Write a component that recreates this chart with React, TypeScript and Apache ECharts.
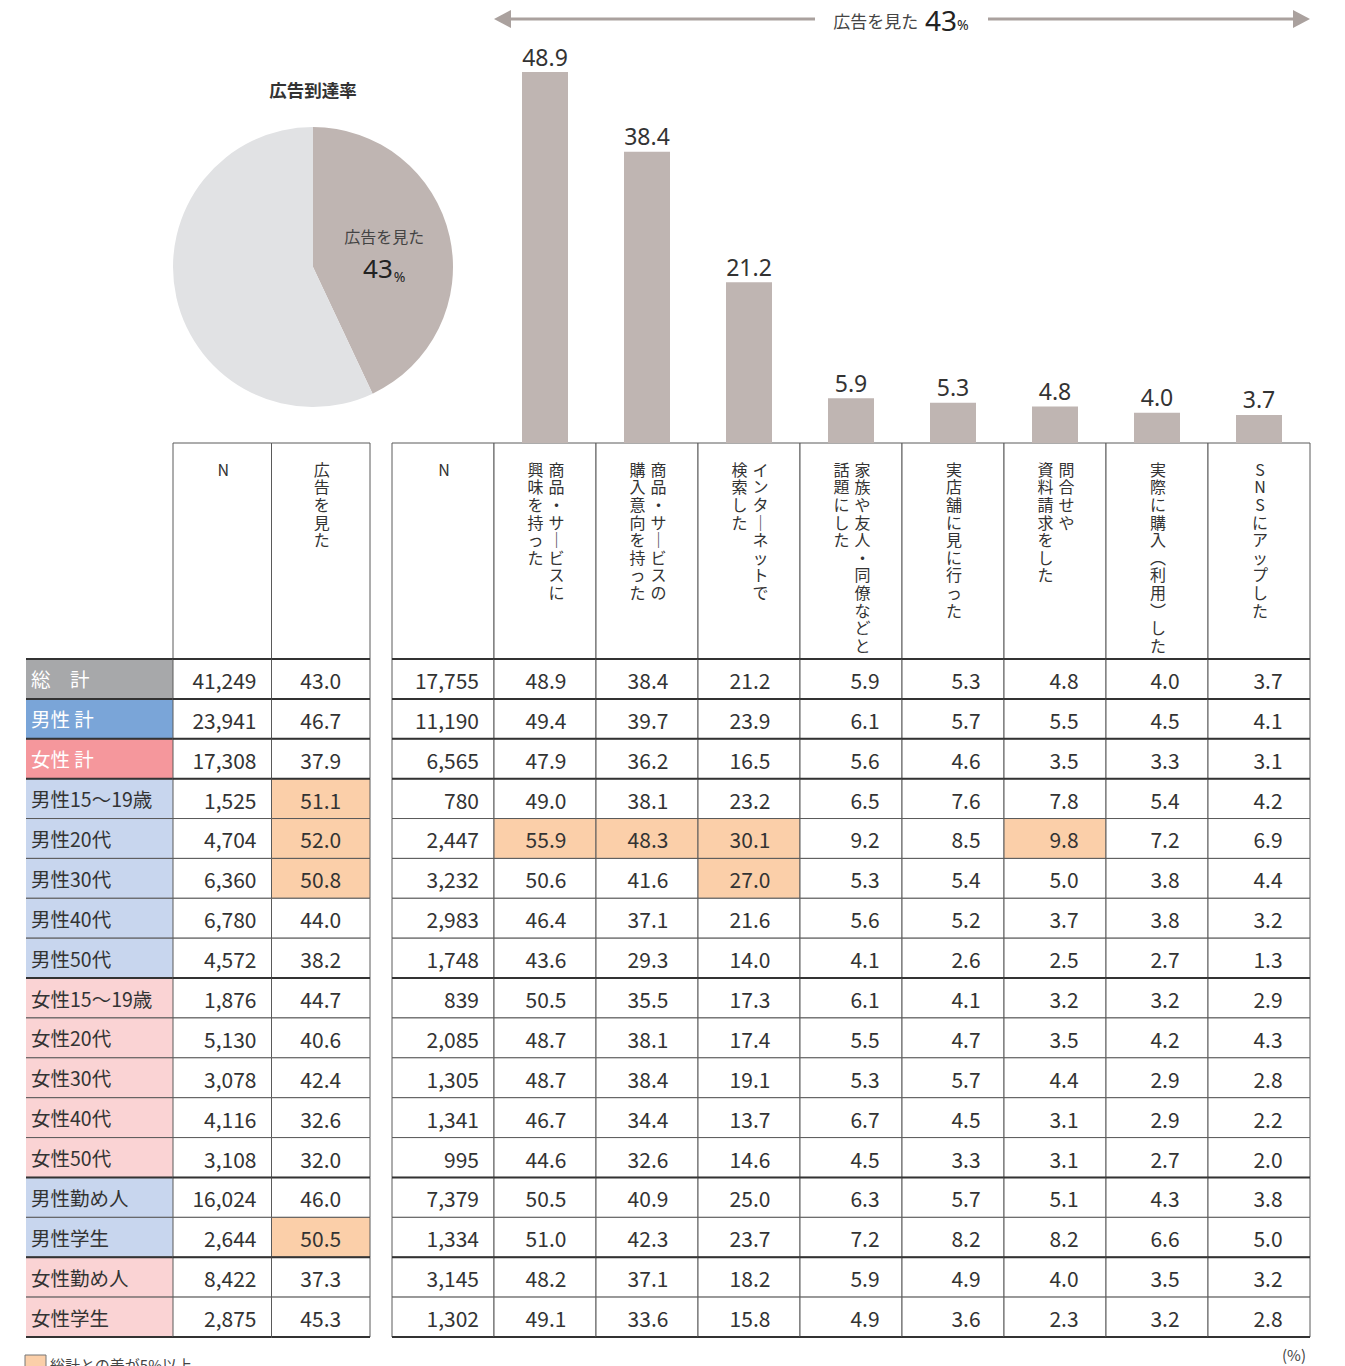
import React, { useEffect, useRef } from "react";
import * as echarts from "echarts";

// ---------- DATA ----------
const rowLabels = [
  "総　計", "男性 計", "女性 計",
  "男性15〜19歳", "男性20代", "男性30代", "男性40代", "男性50代",
  "女性15〜19歳", "女性20代", "女性30代", "女性40代", "女性50代",
  "男性勤め人", "男性学生", "女性勤め人", "女性学生",
];
const rowGroups = [
  "total", "maleTotal", "femaleTotal",
  "male", "male", "male", "male", "male",
  "female", "female", "female", "female", "female",
  "male", "male", "female", "female",
];
const totalN = [41249, 23941, 17308, 1525, 4704, 6360, 6780, 4572, 1876, 5130, 3078, 4116, 3108, 16024, 2644, 8422, 2875];
const sawAdRate = [43.0, 46.7, 37.9, 51.1, 52.0, 50.8, 44.0, 38.2, 44.7, 40.6, 42.4, 32.6, 32.0, 46.0, 50.5, 37.3, 45.3];
const sawAdN = [17755, 11190, 6565, 780, 2447, 3232, 2983, 1748, 839, 2085, 1305, 1341, 995, 7379, 1334, 3145, 1302];

const actionNames = [
  "商品・サービスに興味を持った",
  "商品・サービスの購入意向を持った",
  "インターネットで検索した",
  "家族や友人・同僚などと話題にした",
  "実店舗に見に行った",
  "問合せや資料請求をした",
  "実際に購入（利用）した",
  "SNSにアップした",
];
const actionHeaderLines = [
  ["商品・サービスに", "興味を持った"],
  ["商品・サービスの", "購入意向を持った"],
  ["インターネットで", "検索した"],
  ["家族や友人・同僚などと", "話題にした"],
  ["実店舗に見に行った"],
  ["問合せや", "資料請求をした"],
  ["実際に購入（利用）した"],
  ["SNSにアップした"],
];
const interest = [48.9, 49.4, 47.9, 49.0, 55.9, 50.6, 46.4, 43.6, 50.5, 48.7, 48.7, 46.7, 44.6, 50.5, 51.0, 48.2, 49.1];
const purchaseIntent = [38.4, 39.7, 36.2, 38.1, 48.3, 41.6, 37.1, 29.3, 35.5, 38.1, 38.4, 34.4, 32.6, 40.9, 42.3, 37.1, 33.6];
const searched = [21.2, 23.9, 16.5, 23.2, 30.1, 27.0, 21.6, 14.0, 17.3, 17.4, 19.1, 13.7, 14.6, 25.0, 23.7, 18.2, 15.8];
const talked = [5.9, 6.1, 5.6, 6.5, 9.2, 5.3, 5.6, 4.1, 6.1, 5.5, 5.3, 6.7, 4.5, 6.3, 7.2, 5.9, 4.9];
const visitedStore = [5.3, 5.7, 4.6, 7.6, 8.5, 5.4, 5.2, 2.6, 4.1, 4.7, 5.7, 4.5, 3.3, 5.7, 8.2, 4.9, 3.6];
const inquired = [4.8, 5.5, 3.5, 7.8, 9.8, 5.0, 3.7, 2.5, 3.2, 3.5, 4.4, 3.1, 3.1, 5.1, 8.2, 4.0, 2.3];
const purchased = [4.0, 4.5, 3.3, 5.4, 7.2, 3.8, 3.8, 2.7, 3.2, 4.2, 2.9, 2.9, 2.7, 4.3, 6.6, 3.5, 3.2];
const postedSNS = [3.7, 4.1, 3.1, 4.2, 6.9, 4.4, 3.2, 1.3, 2.9, 4.3, 2.8, 2.2, 2.0, 3.8, 5.0, 3.2, 2.8];
const actionValues = [interest, purchaseIntent, searched, talked, visitedStore, inquired, purchased, postedSNS];

const reachRate = 43;
const pieTitle = "広告到達率";
const sawAdLabel = "広告を見た";
const notSawLabel = "見ていない";
const footnote = "総計との差が5%以上";
const unitLabel = "(%)";
const nLabel = "N";

// ---------- STYLE ----------
const FONT = "'Noto Sans CJK JP', 'Noto Sans', sans-serif";
const NUMFONT = "'Noto Sans', 'Noto Sans CJK JP', sans-serif";
const BAR_COLOR = "#bfb5b2";
const PIE_REST = "#e1e2e4";
const HL = "#fbcfa9";
const LINE = "#5a5a5a";
const ARROW = "#aaa19e";
const groupFill: Record<string, string> = {
  total: "#a7a8aa",
  maleTotal: "#7aa5d8",
  femaleTotal: "#f5979c",
  male: "#c8d6ee",
  female: "#fad3d4",
};
const whiteText: Record<string, boolean> = { total: true, maleTotal: true, femaleTotal: true };
const rightDx = [0, 1, 1, 1, 14, 13, 9, 8, 9];
const CHAR_PITCH = 17.6;

const fmtN = (n: number) => n.toLocaleString("en-US");
const isHL = (v: number, base: number) => Math.round((v - base) * 10) >= 50;
const isGroupStart = (r: number) => r === 0 || rowGroups[r] !== rowGroups[r - 1];
const lastRow = rowLabels.length - 1;

const vmap: Record<string, string> = { "ー": "｜", "（": "︵", "）": "︶" };
const vchars = (s: string) => s.split("").map((c) => vmap[c] || c);

type Cell = { col: number; row: number; text: string; hl: boolean; align: string };

const leftCols = [nLabel, sawAdLabel];
const rightCols = [nLabel, ...actionNames];

const leftCells: Cell[] = [];
const rightCells: Cell[] = [];
rowLabels.forEach((_, r) => {
  leftCells.push({ col: 0, row: r, text: fmtN(totalN[r]), hl: false, align: "right" });
  leftCells.push({ col: 1, row: r, text: sawAdRate[r].toFixed(1), hl: r > 0 && isHL(sawAdRate[r], sawAdRate[0]), align: "center" });
  rightCells.push({ col: 0, row: r, text: fmtN(sawAdN[r]), hl: false, align: "right" });
  actionValues.forEach((vals, j) => {
    rightCells.push({ col: j + 1, row: r, text: vals[r].toFixed(1), hl: r > 0 && isHL(vals[r], vals[0]), align: "center" });
  });
});

function frame(api: any, col: number, row: number) {
  const c = api.coord([col, row]);
  const s = api.size([1, 1]);
  return { x: c[0] - s[0] / 2, y: c[1] - s[1] / 2, w: s[0], h: s[1] };
}

function rowLines(f: any, row: number) {
  const out: any[] = [];
  if (isGroupStart(row)) {
    out.push({ type: "line", shape: { x1: f.x, y1: f.y, x2: f.x + f.w, y2: f.y }, style: { stroke: "#333", lineWidth: 2 } });
  }
  if (row === lastRow) {
    out.push({ type: "line", shape: { x1: f.x, y1: f.y + f.h, x2: f.x + f.w, y2: f.y + f.h }, style: { stroke: "#333", lineWidth: 2 } });
  }
  return out;
}

function dataRender(cells: Cell[], dxArr: number[] | null) {
  return (params: any, api: any) => {
    const cell = cells[params.dataIndex];
    const f = frame(api, cell.col, cell.row);
    let tx = f.x + f.w / 2;
    if (cell.align === "right") tx = f.x + f.w - 15;
    else if (dxArr) tx += dxArr[cell.col];
    return {
      type: "group",
      children: [
        { type: "rect", shape: { x: f.x, y: f.y, width: f.w, height: f.h }, style: { fill: cell.hl ? HL : "#fff", stroke: LINE, lineWidth: 1 } },
        {
          type: "text",
          style: {
            text: cell.text, x: tx, y: f.y + f.h / 2 + 1,
            align: cell.align, verticalAlign: "middle",
            fill: "#333", fontSize: 21, fontFamily: FONT,
          },
        },
        ...rowLines(f, cell.row),
      ],
    };
  };
}

function headerRender(headers: string[][]) {
  return (params: any, api: any) => {
    const col = params.dataIndex;
    const f = frame(api, col, 0);
    const lines = headers[col];
    const children: any[] = [
      { type: "rect", shape: { x: f.x, y: f.y, width: f.w, height: f.h }, style: { fill: "#fff", stroke: LINE, lineWidth: 1 } },
    ];
    const cx = f.x + f.w / 2 + 1;
    const n = lines.length;
    lines.forEach((ln, i) => {
      const lx = cx + ((n - 1) / 2) * 21 - i * 21;
      const chars = ln === nLabel ? [ln] : vchars(ln);
      chars.forEach((ch, k) => {
        children.push({
          type: "text",
          style: {
            text: ch,
            x: lx,
            y: f.y + 17 + CHAR_PITCH / 2 + k * CHAR_PITCH,
            align: "center", verticalAlign: "middle",
            fill: "#333", fontSize: 16, fontFamily: FONT,
          },
        });
      });
    });
    return { type: "group", children };
  };
}

export default function App() {
  const ref = useRef<HTMLDivElement>(null);
  useEffect(() => {
    if (!ref.current) return;
    const chart = echarts.init(ref.current, null, { renderer: "svg" });
    const barValues = actionValues.map((v) => v[0]);

    const option: any = {
      animation: false,
      grid: [
        { left: 494, top: 72, width: 816, height: 371 },
        { left: 173, top: 443, width: 197, height: 216 },
        { left: 392, top: 443, width: 918, height: 216 },
        { left: 26, top: 659, width: 147, height: 678 },
        { left: 173, top: 659, width: 197, height: 678 },
        { left: 392, top: 659, width: 918, height: 678 },
      ],
      xAxis: [
        { gridIndex: 0, type: "category", data: actionNames, show: false },
        { gridIndex: 1, type: "category", data: leftCols, show: false },
        { gridIndex: 2, type: "category", data: rightCols, show: false },
        { gridIndex: 3, type: "category", data: ["属性"], show: false },
        { gridIndex: 4, type: "category", data: leftCols, show: false },
        { gridIndex: 5, type: "category", data: rightCols, show: false },
      ],
      yAxis: [
        { gridIndex: 0, type: "value", min: 0, max: Math.max(...barValues), show: false },
        { gridIndex: 1, type: "category", data: ["header"], show: false },
        { gridIndex: 2, type: "category", data: ["header"], show: false },
        { gridIndex: 3, type: "category", data: rowLabels, inverse: true, show: false },
        { gridIndex: 4, type: "category", data: rowLabels, inverse: true, show: false },
        { gridIndex: 5, type: "category", data: rowLabels, inverse: true, show: false },
      ],
      series: [
        {
          type: "bar",
          xAxisIndex: 0, yAxisIndex: 0,
          data: barValues,
          barWidth: 46,
          silent: true,
          itemStyle: { color: BAR_COLOR },
          label: {
            show: true, position: "top", distance: 4,
            formatter: (p: any) => Number(p.value).toFixed(1),
            fontSize: 23, color: "#333", fontFamily: NUMFONT,
          },
        },
        {
          type: "pie",
          center: [313, 267],
          radius: 140,
          startAngle: 90,
          clockwise: true,
          silent: true,
          itemStyle: { borderWidth: 0 },
          labelLine: { show: false },
          data: [
            {
              value: reachRate, name: sawAdLabel,
              itemStyle: { color: BAR_COLOR },
              label: {
                show: true, position: "inside",
                formatter: `{a|${sawAdLabel}}\n{b|${reachRate}}{c|%}`,
                rich: {
                  a: { fontSize: 16, color: "#444", fontFamily: FONT, lineHeight: 34 },
                  b: { fontSize: 26, color: "#222", fontFamily: NUMFONT, lineHeight: 30 },
                  c: { fontSize: 14, color: "#222", fontFamily: NUMFONT, lineHeight: 30, verticalAlign: "bottom", padding: [0, 0, 0, 1] },
                },
              },
            },
            { value: 100 - reachRate, name: notSawLabel, itemStyle: { color: PIE_REST }, label: { show: false } },
          ],
        },
        {
          type: "custom", xAxisIndex: 1, yAxisIndex: 1, silent: true,
          data: leftCols.map((_, i) => [i, 0]),
          renderItem: headerRender([[nLabel], [sawAdLabel]]),
        },
        {
          type: "custom", xAxisIndex: 2, yAxisIndex: 2, silent: true,
          data: rightCols.map((_, i) => [i, 0]),
          renderItem: headerRender([[nLabel], ...actionHeaderLines]),
        },
        {
          type: "custom", xAxisIndex: 3, yAxisIndex: 3, silent: true,
          data: rowLabels.map((_, r) => [0, r]),
          renderItem: (params: any, api: any) => {
            const r = params.dataIndex;
            const f = frame(api, 0, r);
            const g = rowGroups[r];
            return {
              type: "group",
              children: [
                { type: "rect", shape: { x: f.x, y: f.y, width: f.w, height: f.h }, style: { fill: groupFill[g] } },
                { type: "line", shape: { x1: f.x, y1: f.y, x2: f.x + f.w, y2: f.y }, style: { stroke: LINE, lineWidth: 1 } },
                { type: "line", shape: { x1: f.x, y1: f.y + f.h, x2: f.x + f.w, y2: f.y + f.h }, style: { stroke: LINE, lineWidth: 1 } },
                {
                  type: "text",
                  style: {
                    text: rowLabels[r], x: f.x + 5, y: f.y + f.h / 2,
                    align: "left", verticalAlign: "middle",
                    fill: whiteText[g] ? "#fff" : "#333",
                    fontSize: 19.5, fontFamily: FONT,
                  },
                },
                ...rowLines(f, r),
              ],
            };
          },
        },
        {
          type: "custom", xAxisIndex: 4, yAxisIndex: 4, silent: true,
          data: leftCells.map((c) => [c.col, c.row]),
          renderItem: dataRender(leftCells, null),
        },
        {
          type: "custom", xAxisIndex: 5, yAxisIndex: 5, silent: true,
          data: rightCells.map((c) => [c.col, c.row]),
          renderItem: dataRender(rightCells, rightDx),
        },
      ],
      graphic: [
        {
          type: "text", x: 313, y: 89,
          style: { text: pieTitle, align: "center", verticalAlign: "middle", fontSize: 17.5, fontWeight: "bold", fill: "#333", fontFamily: FONT },
        },
        { type: "line", shape: { x1: 508, y1: 19, x2: 815, y2: 19 }, style: { stroke: ARROW, lineWidth: 3 } },
        { type: "line", shape: { x1: 988, y1: 19, x2: 1296, y2: 19 }, style: { stroke: ARROW, lineWidth: 3 } },
        { type: "polygon", shape: { points: [[494, 19], [511, 10], [511, 28]] }, style: { fill: ARROW } },
        { type: "polygon", shape: { points: [[1310, 19], [1293, 10], [1293, 28]] }, style: { fill: ARROW } },
        {
          type: "text", x: 901, y: 20,
          style: {
            text: `{a|${sawAdLabel}}  {b|${reachRate}}{c|%}`,
            align: "center", verticalAlign: "middle",
            rich: {
              a: { fontSize: 17, fill: "#444", fontFamily: FONT },
              b: { fontSize: 28, fill: "#222", fontFamily: NUMFONT },
              c: { fontSize: 14, fill: "#222", fontFamily: NUMFONT, padding: [8, 0, 0, 0] },
            },
          },
        },
        { type: "rect", shape: { x: 25, y: 1355, width: 21, height: 14 }, style: { fill: HL, stroke: "#777", lineWidth: 1 } },
        {
          type: "text", x: 50, y: 1364,
          style: { text: footnote, align: "left", verticalAlign: "middle", fontSize: 15, fill: "#444", fontFamily: FONT },
        },
        {
          type: "text", x: 1294, y: 1354,
          style: { text: unitLabel, align: "center", verticalAlign: "middle", fontSize: 15, fill: "#444", fontFamily: FONT },
        },
      ],
    };
    chart.setOption(option);
    return () => chart.dispose();
  }, []);
  return <div ref={ref} style={{ position: "absolute", left: 0, top: 0, width: 1345, height: 1366, background: "#fff" }} />;
}
